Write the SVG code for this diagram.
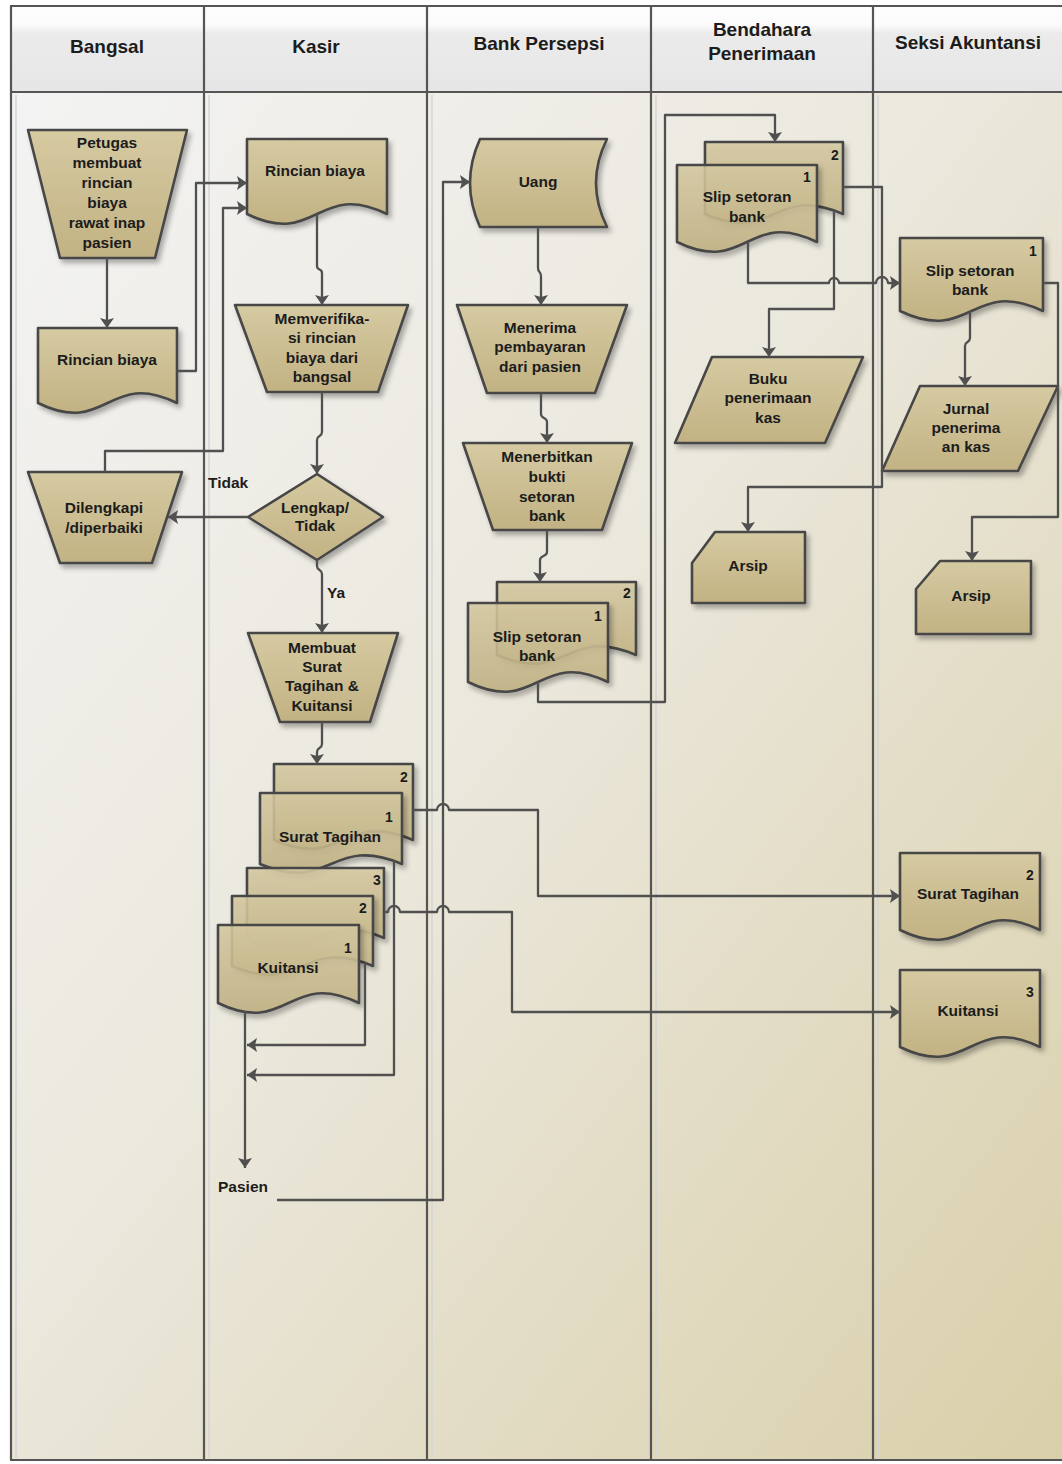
<svg xmlns="http://www.w3.org/2000/svg" width="1062" height="1464" viewBox="0 0 1062 1464">
  <defs>
    <linearGradient id="hdrFill" x1="0" y1="0" x2="0" y2="1">
      <stop offset="0" stop-color="#fdfdfd"/>
      <stop offset="0.22" stop-color="#fbfbfb"/>
      <stop offset="0.32" stop-color="#ebebeb"/>
      <stop offset="1" stop-color="#e6e6e6"/>
    </linearGradient>
    <linearGradient id="bodyFill" x1="0" y1="0" x2="1" y2="1">
      <stop offset="0" stop-color="#f3f3f3"/>
      <stop offset="0.45" stop-color="#ebe8dd"/>
      <stop offset="1" stop-color="#d9cfa9"/>
    </linearGradient>
    <linearGradient id="tan" x1="0" y1="0" x2="0" y2="1">
      <stop offset="0" stop-color="#d6caa2"/>
      <stop offset="1" stop-color="#c2b283"/>
    </linearGradient>
    <filter id="shadow" x="-10%" y="-10%" width="130%" height="130%">
      <feDropShadow dx="3" dy="4" stdDeviation="2.5" flood-color="#000" flood-opacity="0.3"/>
    </filter>
    <marker id="ah" viewBox="0 0 10 14" refX="10" refY="7" markerWidth="11" markerHeight="14" markerUnits="userSpaceOnUse" orient="auto">
      <path d="M0,0 L10,7 L0,14 L2,7 Z" fill="#505050"/>
    </marker>
    <style>
      .lane { stroke:#555; stroke-width:2.2; }
      .lane-hl { stroke:#d4d4d4; stroke-width:1.5; }
      .shape { fill:url(#tan); stroke:#474747; stroke-width:2.6; stroke-linejoin:round; filter:url(#shadow); }
      .sheet { fill:url(#tan); fill-opacity:0.86; stroke:#474747; stroke-width:2.6; stroke-linejoin:round; filter:url(#shadow); }
      .conn { fill:none; stroke:#505050; stroke-width:2.3; stroke-linejoin:round; }
      .arr { marker-end:url(#ah); }
      text { font-family:"Liberation Sans", Arial, sans-serif; font-weight:bold; fill:#1c1c1c; }
      .lbl { font-size:15.5px; text-anchor:middle; }
      .num { font-size:14px; text-anchor:middle; }
      .hdr { font-size:19px; text-anchor:middle; }
      .free { font-size:15.5px; }
    </style>
  </defs>

  <rect x="0" y="0" width="1062" height="1464" fill="#ffffff"/>

  <!-- swimlane pool -->
  <g id="pool">
    <rect x="10" y="6" width="1060" height="86" fill="url(#hdrFill)"/>
    <rect x="10" y="92" width="1060" height="1368" fill="url(#bodyFill)"/>
    <line class="lane-hl" x1="16" y1="95" x2="16" y2="1458"/>
    <line class="lane-hl" x1="209" y1="95" x2="209" y2="1458"/>
    <line class="lane-hl" x1="432" y1="95" x2="432" y2="1458"/>
    <line class="lane-hl" x1="656" y1="95" x2="656" y2="1458"/>
    <line class="lane-hl" x1="878" y1="95" x2="878" y2="1458"/>
    <line class="lane" x1="10" y1="6" x2="1062" y2="6"/>
    <line class="lane" x1="10" y1="92" x2="1062" y2="92" stroke-width="3"/>
    <line class="lane" x1="10" y1="1460" x2="1062" y2="1460"/>
    <line class="lane" x1="11" y1="6" x2="11" y2="1460"/>
    <line class="lane" x1="204" y1="6" x2="204" y2="1460"/>
    <line class="lane" x1="427" y1="6" x2="427" y2="1460"/>
    <line class="lane" x1="651" y1="6" x2="651" y2="1460"/>
    <line class="lane" x1="873" y1="6" x2="873" y2="1460"/>
    <text class="hdr" x="107" y="53">Bangsal</text>
    <text class="hdr" x="316" y="53">Kasir</text>
    <text class="hdr" x="539" y="50">Bank Persepsi</text>
    <text class="hdr" x="762" y="36">Bendahara</text>
    <text class="hdr" x="762" y="60">Penerimaan</text>
    <text class="hdr" x="968" y="49">Seksi Akuntansi</text>
  </g>

  <!-- Bangsal -->
  <g id="petugas-membuat">
    <polygon class="shape" points="28,130 187,130 155,258 60,258"/>
    <text class="lbl" x="107" y="148">Petugas</text>
    <text class="lbl" x="107" y="168">membuat</text>
    <text class="lbl" x="107" y="188">rincian</text>
    <text class="lbl" x="107" y="208">biaya</text>
    <text class="lbl" x="107" y="228">rawat inap</text>
    <text class="lbl" x="107" y="248">pasien</text>
  </g>
  <g id="rincian-bangsal">
    <path class="shape" d="M38,328 H177 V403 C107.5,369 107.5,437 38,403 Z"/>
    <text class="lbl" x="107" y="365">Rincian biaya</text>
  </g>
  <g id="dilengkapi">
    <polygon class="shape" points="28,472 182,472 152,563 60,563"/>
    <text class="lbl" x="104" y="513">Dilengkapi</text>
    <text class="lbl" x="104" y="533">/diperbaiki</text>
  </g>

  <!-- Kasir -->
  <g id="rincian-kasir">
    <path class="shape" d="M247,139 H387 V214 C317,180 317,248 247,214 Z"/>
    <text class="lbl" x="315" y="176">Rincian biaya</text>
  </g>
  <g id="memverifikasi">
    <polygon class="shape" points="235,305 408,305 378,392 267,392"/>
    <text class="lbl" x="322" y="324">Memverifika-</text>
    <text class="lbl" x="322" y="343">si rincian</text>
    <text class="lbl" x="322" y="363">biaya dari</text>
    <text class="lbl" x="322" y="382">bangsal</text>
  </g>
  <g id="lengkap-tidak">
    <polygon class="shape" points="248,517 317,474 383,517 317,560"/>
    <text class="lbl" x="315" y="513">Lengkap/</text>
    <text class="lbl" x="315" y="531">Tidak</text>
  </g>
  <g id="membuat-surat">
    <polygon class="shape" points="248,633 398,633 370,722 280,722"/>
    <text class="lbl" x="322" y="653">Membuat</text>
    <text class="lbl" x="322" y="672">Surat</text>
    <text class="lbl" x="322" y="691">Tagihan &amp;</text>
    <text class="lbl" x="322" y="711">Kuitansi</text>
  </g>
  <g id="surat-tagihan-kasir">
    <path class="sheet" d="M274,764 H413 V840 C343.5,810 343.5,870 274,840 Z"/>
    <text class="num" x="404" y="782">2</text>
    <path class="sheet" d="M260,793 H402 V864 C331,834 331,894 260,864 Z"/>
    <text class="num" x="389" y="822">1</text>
    <text class="lbl" x="330" y="842">Surat Tagihan</text>
  </g>
  <g id="kuitansi-kasir">
    <path class="sheet" d="M247,868 H384 V938 C315.5,908 315.5,968 247,938 Z"/>
    <text class="num" x="377" y="885">3</text>
    <path class="sheet" d="M232,896 H373 V966 C302.5,936 302.5,996 232,966 Z"/>
    <text class="num" x="363" y="913">2</text>
    <path class="sheet" d="M218,925 H359 V1003 C288.5,969 288.5,1037 218,1003 Z"/>
    <text class="num" x="348" y="953">1</text>
    <text class="lbl" x="288" y="973">Kuitansi</text>
  </g>
  <g id="pasien">
    <text class="free" x="218" y="1192">Pasien</text>
  </g>

  <!-- Bank Persepsi -->
  <g id="uang">
    <path class="shape" d="M480,139 H607 Q585,183 607,227 H480 Q460,183 480,139 Z"/>
    <text class="lbl" x="538" y="187">Uang</text>
  </g>
  <g id="menerima">
    <polygon class="shape" points="457,305 627,305 595,393 487,393"/>
    <text class="lbl" x="540" y="333">Menerima</text>
    <text class="lbl" x="540" y="352">pembayaran</text>
    <text class="lbl" x="540" y="372">dari pasien</text>
  </g>
  <g id="menerbitkan">
    <polygon class="shape" points="463,443 632,443 602,530 493,530"/>
    <text class="lbl" x="547" y="462">Menerbitkan</text>
    <text class="lbl" x="547" y="482">bukti</text>
    <text class="lbl" x="547" y="502">setoran</text>
    <text class="lbl" x="547" y="521">bank</text>
  </g>
  <g id="slip-bank">
    <path class="sheet" d="M497,582 H636 V655 C566.5,625 566.5,685 497,655 Z"/>
    <text class="num" x="627" y="598">2</text>
    <path class="sheet" d="M468,603 H608 V682 C538,648 538,716 468,682 Z"/>
    <text class="num" x="598" y="621">1</text>
    <text class="lbl" x="537" y="642">Slip setoran</text>
    <text class="lbl" x="537" y="661">bank</text>
  </g>

  <!-- Bendahara Penerimaan -->
  <g id="slip-bendahara">
    <path class="sheet" d="M705,142 H843 V214 C774,184 774,244 705,214 Z"/>
    <text class="num" x="835" y="160">2</text>
    <path class="sheet" d="M677,165 H817 V242 C747,208 747,276 677,242 Z"/>
    <text class="num" x="807" y="182">1</text>
    <text class="lbl" x="747" y="202">Slip setoran</text>
    <text class="lbl" x="747" y="222">bank</text>
  </g>
  <g id="buku-penerimaan">
    <polygon class="shape" points="712,357 863,357 825,443 675,443"/>
    <text class="lbl" x="768" y="384">Buku</text>
    <text class="lbl" x="768" y="403">penerimaan</text>
    <text class="lbl" x="768" y="423">kas</text>
  </g>
  <g id="arsip-bendahara">
    <path class="shape" d="M692,563 L715,532 H805 V603 H692 Z"/>
    <text class="lbl" x="748" y="571">Arsip</text>
  </g>

  <!-- Seksi Akuntansi -->
  <g id="slip-seksi">
    <path class="shape" d="M900,238 H1043 V311 C971.5,277 971.5,345 900,311 Z"/>
    <text class="num" x="1033" y="256">1</text>
    <text class="lbl" x="970" y="276">Slip setoran</text>
    <text class="lbl" x="970" y="295">bank</text>
  </g>
  <g id="jurnal">
    <polygon class="shape" points="920,386 1058,386 1018,471 882,471"/>
    <text class="lbl" x="966" y="414">Jurnal</text>
    <text class="lbl" x="966" y="433">penerima</text>
    <text class="lbl" x="966" y="452">an kas</text>
  </g>
  <g id="arsip-seksi">
    <path class="shape" d="M916,589 L940,561 H1031 V634 H916 Z"/>
    <text class="lbl" x="971" y="601">Arsip</text>
  </g>
  <g id="surat-tagihan-seksi">
    <path class="shape" d="M900,853 H1040 V930 C970,896 970,964 900,930 Z"/>
    <text class="num" x="1030" y="880">2</text>
    <text class="lbl" x="968" y="899">Surat Tagihan</text>
  </g>
  <g id="kuitansi-seksi">
    <path class="shape" d="M900,970 H1040 V1047 C970,1013 970,1081 900,1047 Z"/>
    <text class="num" x="1030" y="997">3</text>
    <text class="lbl" x="968" y="1016">Kuitansi</text>
  </g>

  <!-- connectors -->
  <g id="connectors">
    <path class="conn arr" d="M107,258 V328"/>
    <path class="conn arr" d="M177,371 H196 V183 H247"/>
    <path class="conn arr" d="M105,472 V451 H223 V208 H247"/>
    <path class="conn arr" d="M317,214 V266 C317,271 322,268 322,273 V305"/>
    <path class="conn arr" d="M322,392 V432 C322,437 317,435 317,440 V474"/>
    <path class="conn arr" d="M248,517 H168"/>
    <text class="free" x="208" y="488">Tidak</text>
    <path class="conn arr" d="M317,560 V566 C317,571 322,569 322,574 V633"/>
    <text class="free" x="327" y="598">Ya</text>
    <path class="conn arr" d="M322,722 V744 C322,749 317,747 317,752 V764"/>
    <path class="conn arr" d="M413,810 H437 A6,6 0 0 1 449,810 H538 V896 H900"/>
    <path class="conn arr" d="M384,912 H388 A6,6 0 0 1 400,912 H437 A6,6 0 0 1 449,912 H512 V1012 H900"/>
    <path class="conn arr" d="M394,861 V1075 H247"/>
    <path class="conn arr" d="M365,963 V1045 H247"/>
    <path class="conn arr" d="M245,1011 V1168"/>
    <path class="conn arr" d="M277,1200 H443 V182 H470"/>
    <path class="conn arr" d="M538,227 V268 C538,273 541,271 541,276 V305"/>
    <path class="conn arr" d="M541,393 V414 C541,419 547,417 547,422 V443"/>
    <path class="conn arr" d="M547,530 V552 C547,557 540,555 540,560 V582"/>
    <path class="conn arr" d="M538,682 V702 H665 V115 H775 V142"/>
    <path class="conn arr" d="M843,187 H882 V487 H748 V532"/>
    <path class="conn arr" d="M748,242 V283 H829 A5,5 0 0 1 839,283 H876 A6,6 0 0 1 888,283 H900"/>
    <path class="conn arr" d="M834,211 V309 H769 V357"/>
    <path class="conn arr" d="M970,311 V338 C970,343 965,341 965,346 V386"/>
    <path class="conn arr" d="M1043,283 H1058 V517 H972 V561"/>
  </g>
</svg>
